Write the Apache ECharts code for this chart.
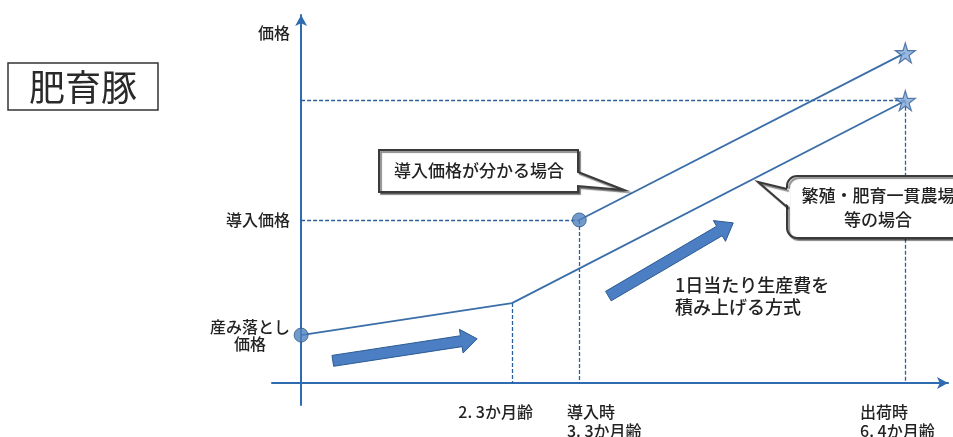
<!DOCTYPE html>
<html>
<head>
<meta charset="utf-8">
<script src="https://cdn.jsdelivr.net/npm/echarts@6/dist/echarts.min.js"></script>
<style>
html,body{margin:0;padding:0;background:#fff;}
#chart{width:953px;height:437px;}
</style>
</head>
<body>
<div id="chart"></div>
<script>
// ---- data (schematic units) ----
const lowerLineX = [0, 32.6, 93.4];          // birth, 2.3 months, shipping
const lowerLineY = [13.0, 21.7, 76.7];
const upperLineX = [43.0, 93.4];             // import (3.3 months), shipping
const upperLineY = [44.3, 89.7];

const yTickValues = [13.0, 44.3, 95.1];
const yTickLabels = ['産み落とし\n価格', '導入価格', '価格'];

const xTickValues = [24.3, 41.1, 86.4];
const xTickLabels = ['2. 3か月齢', '導入時\n3. 3か月齢', '出荷時\n6. 4か月齢'];

const arrowStartX = [4.9, 47.5];
const arrowStartY = [6.0, 23.6];
const arrowEndX = [27.2, 66.8];
const arrowEndY = [12.0, 43.5];

const titleText = '肥育豚';
const callout1Text = '導入価格が分かる場合';
const callout2Text = '繁殖・肥育一貫農場\n等の場合';
const noteText = '1日当たり生産費を\n積み上げる方式';

// ---- build ----
const FONT = '"Noto Sans CJK JP", "Noto Sans", sans-serif';
const FW = 500;
const lowerData = lowerLineX.map((x, i) => [x, lowerLineY[i]]);
const upperData = upperLineX.map((x, i) => [x, upperLineY[i]]);
const knee = lowerData[1];
const importPt = upperData[0];
const shipPt = lowerData[2];
const guides = [
  {coords: [[knee[0], knee[1]], [knee[0], 0]]},
  {coords: [[0, importPt[1]], [importPt[0], importPt[1]]]},
  {coords: [[importPt[0], importPt[1]], [importPt[0], 0]]},
  {coords: [[0, shipPt[1]], [shipPt[0], shipPt[1]]]},
  {coords: [[shipPt[0], shipPt[1]], [shipPt[0], 0]]}
];
const arrowData = arrowStartX.map((x, i) => [x, arrowStartY[i], arrowEndX[i], arrowEndY[i]]);
const STAR = 'path://M50,0 L61,35 L98,35 L68,57 L79,91 L50,70 L21,91 L32,57 L2,35 L39,35 Z';
const SHADOW = {shadowColor: 'rgba(0,0,0,0.45)', shadowOffsetX: 2, shadowOffsetY: 2, shadowBlur: 1};

const chart = echarts.init(document.getElementById('chart'));
const option = {
  backgroundColor: '#ffffff',
  animation: false,
  grid: {left: 272, right: 5, top: 15, bottom: 32, containLabel: false, outerBoundsMode: 'none'},
  xAxis: {
    type: 'value', min: -4.5, max: 100,
    splitLine: {show: false}, axisTick: {show: false},
    axisLine: {onZero: true, lineStyle: {color: '#2e6bb0', width: 2}, symbol: ['none', 'arrow'], symbolSize: [9, 11]},
    axisLabel: {
      customValues: xTickValues, align: 'left', margin: -3,
      fontSize: 16, lineHeight: 19, color: '#222', fontFamily: FONT, fontWeight: FW,
      formatter: v => { const i = xTickValues.indexOf(v); return i >= 0 ? xTickLabels[i] : ''; }
    }
  },
  yAxis: {
    type: 'value', min: -6, max: 100,
    splitLine: {show: false}, axisTick: {show: false},
    axisLine: {onZero: true, lineStyle: {color: '#2e6bb0', width: 2}, symbol: ['none', 'arrow'], symbolSize: [9, 11]},
    axisLabel: {
      customValues: yTickValues, align: 'right', margin: -18,
      fontSize: 16, lineHeight: 17, color: '#222', fontFamily: FONT, fontWeight: FW,
      formatter: v => {
        const i = yTickValues.indexOf(v);
        if (i < 0) return '';
        return yTickLabels[i].split('\n').map(s => '{c|' + s + '}').join('\n');
      },
      rich: {c: {align: 'center', fontSize: 16, lineHeight: 17, color: '#222', fontFamily: FONT, fontWeight: FW}}
    }
  },
  series: [
    {
      type: 'lines', coordinateSystem: 'cartesian2d', z: 1,
      lineStyle: {color: '#2c5f9e', width: 1.3, type: [4, 2], opacity: 1},
      data: guides, silent: true
    },
    {
      type: 'line', data: lowerData, showSymbol: false, z: 3,
      lineStyle: {color: '#3a6ea8', width: 1.8}
    },
    {
      type: 'line', data: upperData, showSymbol: false, z: 3,
      lineStyle: {color: '#3a6ea8', width: 1.8}
    },
    {
      type: 'custom', z: 4, clip: false,
      encode: {x: [0, 2], y: [1, 3]},
      data: arrowData,
      renderItem: function (params, api) {
        const p1 = api.coord([api.value(0), api.value(1)]);
        const p2 = api.coord([api.value(2), api.value(3)]);
        const dx = p2[0] - p1[0], dy = p2[1] - p1[1];
        const len = Math.sqrt(dx * dx + dy * dy);
        const ux = dx / len, uy = dy / len, nx = -uy, ny = ux;
        const sw = 5.5, hw = 12, hl = 16;
        const bx = p2[0] - ux * hl, by = p2[1] - uy * hl;
        const pts = [
          [p1[0] + nx * sw, p1[1] + ny * sw],
          [bx + nx * sw, by + ny * sw],
          [bx + nx * hw, by + ny * hw],
          [p2[0], p2[1]],
          [bx - nx * hw, by - ny * hw],
          [bx - nx * sw, by - ny * sw],
          [p1[0] - nx * sw, p1[1] - ny * sw]
        ];
        return {type: 'polygon', shape: {points: pts}, style: {fill: '#4b7ec2', stroke: '#2b5b94', lineWidth: 1}};
      }
    },
    {
      type: 'scatter', z: 5, symbol: 'circle', symbolSize: 14,
      itemStyle: {color: '#4f81bd', borderColor: '#2c5a8c', borderWidth: 1},
      data: [lowerData[0], upperData[0]]
    },
    {
      type: 'scatter', z: 5, symbol: STAR, symbolSize: 20,
      itemStyle: {color: '#7fa6d6', borderColor: '#34609a', borderWidth: 1.2},
      data: [lowerData[2], upperData[1]]
    }
  ],
  graphic: [
    {type: 'rect', z: 10, shape: {x: 8, y: 63, width: 150, height: 47},
     style: {fill: 'none', stroke: '#333', lineWidth: 1.5}},
    {type: 'text', z: 10, x: 83, y: 87,
     style: {text: titleText, fontSize: 36, fontFamily: FONT, fill: '#2a2a2a', align: 'center', verticalAlign: 'middle'}},
    {type: 'polygon', z: 10,
     shape: {points: [[379,150],[578,150],[578,172],[624,190],[578,186],[578,192],[379,192]]},
     style: Object.assign({fill: '#fff', stroke: '#3a3a3a', lineWidth: 2}, SHADOW)},
    {type: 'text', z: 11, x: 479, y: 171,
     style: {text: callout1Text, fontSize: 17, fontWeight: FW, fontFamily: FONT, fill: '#222', align: 'center', verticalAlign: 'middle'}},
    {type: 'rect', z: 10, shape: {x: 787, y: 176, width: 200, height: 62, r: 10},
     style: Object.assign({fill: '#fff', stroke: '#3a3a3a', lineWidth: 2}, SHADOW)},
    {type: 'polygon', z: 11, shape: {points: [[790,189],[758,182],[790,207]]},
     style: {fill: '#fff', stroke: 'none'}},
    {type: 'polyline', z: 11, shape: {points: [[787,189],[758,182],[787,207]]},
     style: Object.assign({fill: 'none', stroke: '#3a3a3a', lineWidth: 2}, SHADOW)},
    {type: 'text', z: 12, x: 878, y: 208,
     style: {text: callout2Text, fontSize: 17, lineHeight: 24, fontWeight: FW, fontFamily: FONT, fill: '#222', align: 'center', verticalAlign: 'middle'}},
    {type: 'text', z: 11, x: 675, y: 296,
     style: {text: noteText, fontSize: 18, lineHeight: 22, fontWeight: FW, fontFamily: FONT, fill: '#222', align: 'left', verticalAlign: 'middle'}}
  ]
};
chart.setOption(option);
</script>
</body>
</html>
